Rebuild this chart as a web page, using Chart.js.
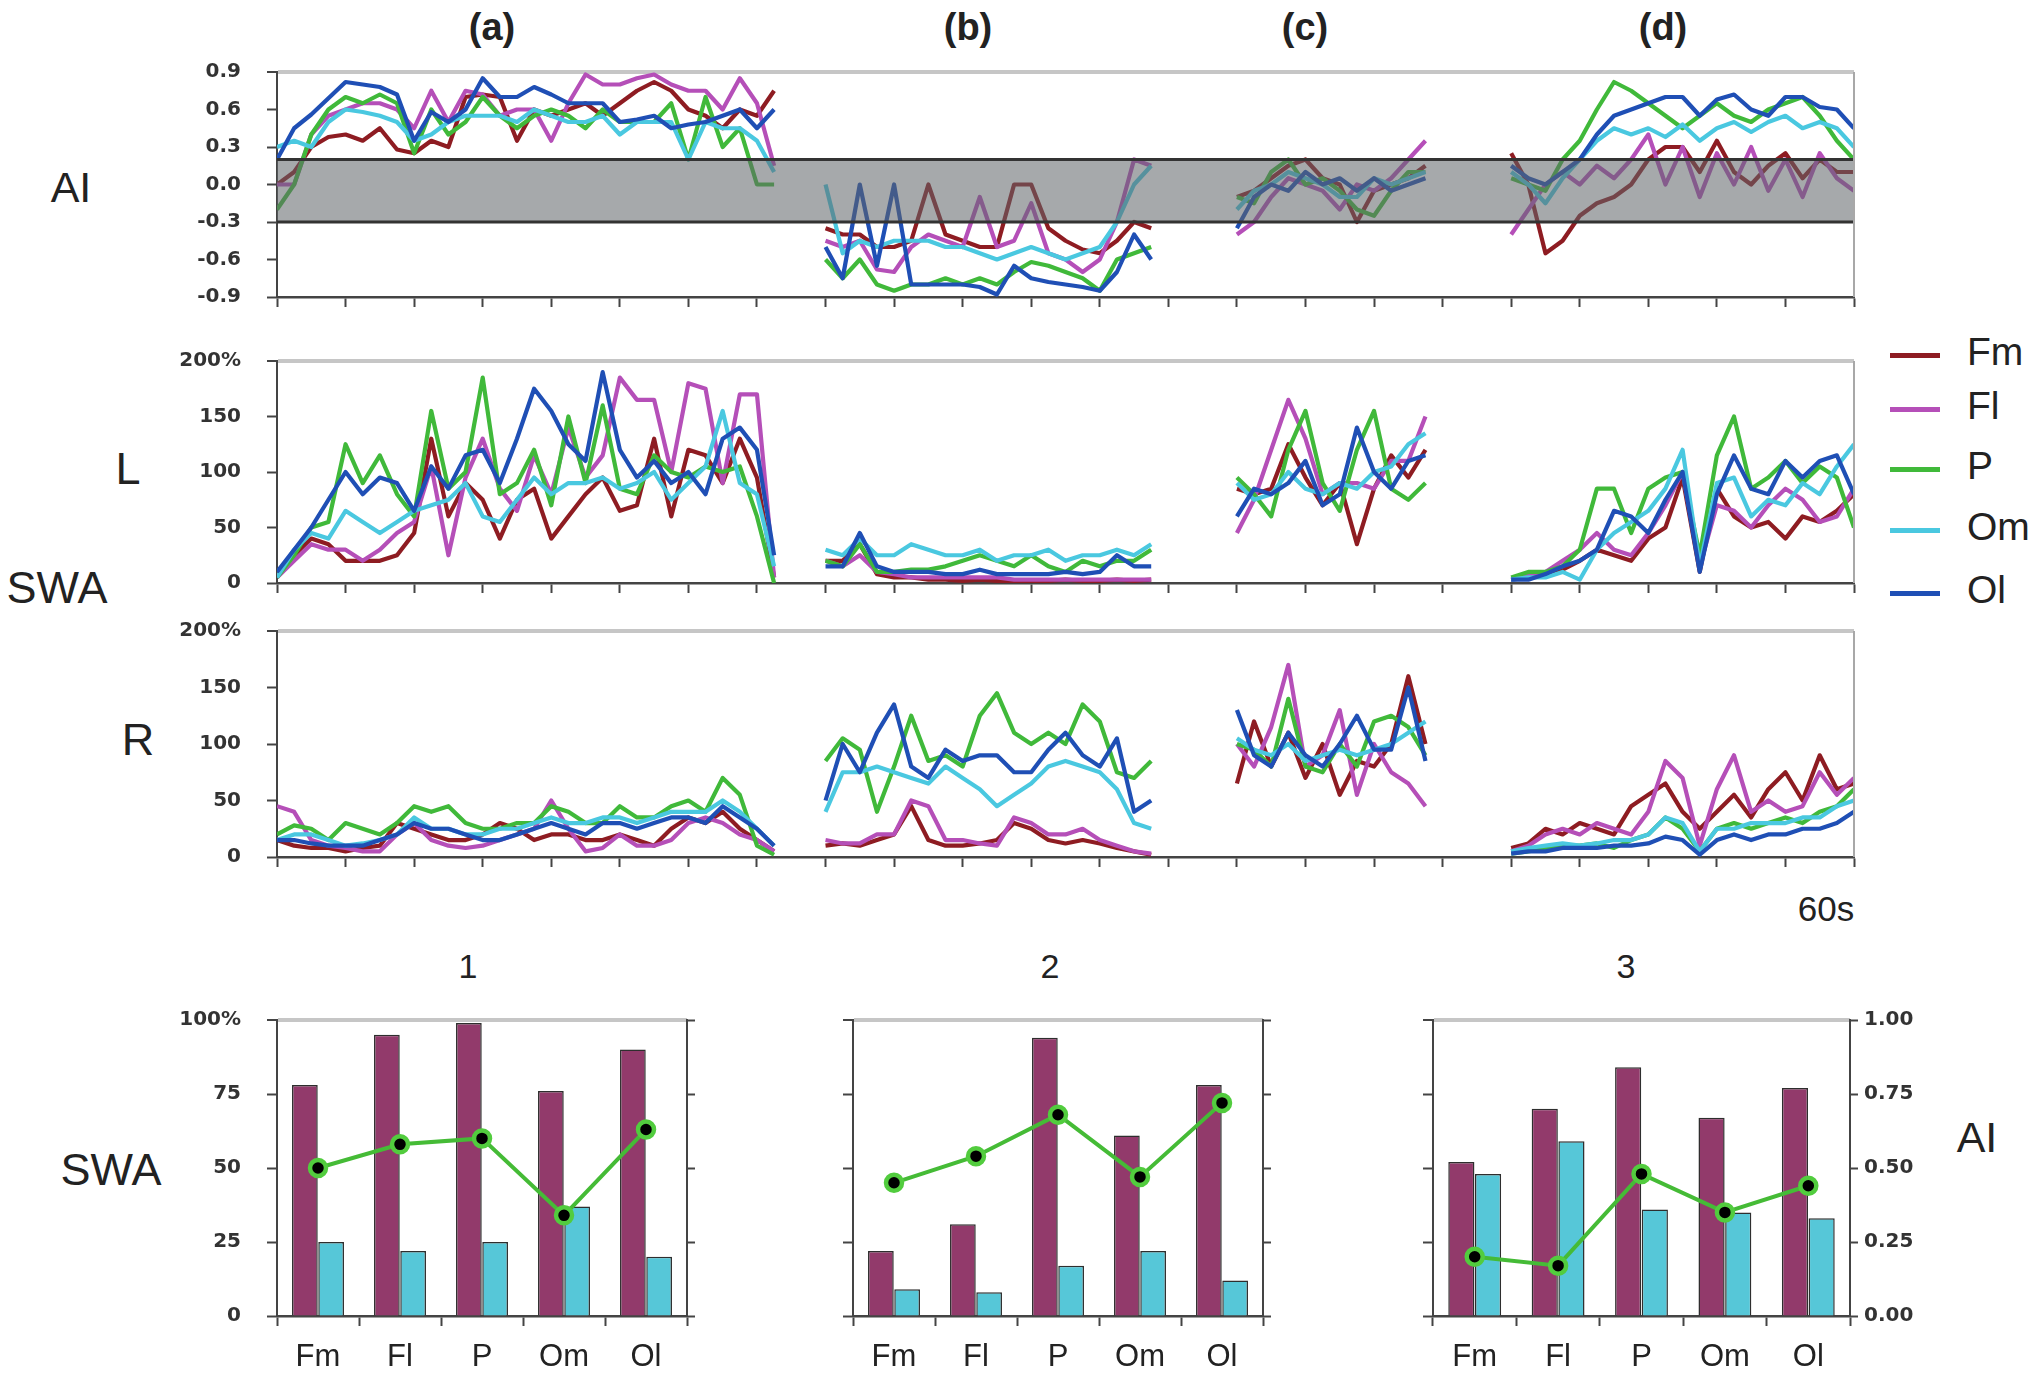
<!DOCTYPE html>
<html>
<head>
<meta charset="utf-8">
<script src="https://cdn.jsdelivr.net/npm/chart.js@4.4.1/dist/chart.umd.min.js"></script>
<style>
  body { margin: 0; background: #fff; width: 2040px; height: 1376px; position: relative; overflow: hidden;
         font-family: 'Liberation Sans', Arial, sans-serif; color: #222; }
  canvas { position: absolute; }
  .lbl { position: absolute; transform: translate(-50%, -50%); white-space: nowrap; line-height: 1; }
  .leg { position: absolute; transform: translateY(-50%); white-space: nowrap; line-height: 1; font-size: 39px; }
  .legline { position: absolute; width: 50px; height: 5px; }
</style>
</head>
<body>

<div class="lbl" style="left:492px;top:27px;font-size:38px;font-weight:bold;">(a)</div>
<div class="lbl" style="left:968px;top:27px;font-size:38px;font-weight:bold;">(b)</div>
<div class="lbl" style="left:1305px;top:27px;font-size:38px;font-weight:bold;">(c)</div>
<div class="lbl" style="left:1663px;top:27px;font-size:38px;font-weight:bold;">(d)</div>

<div class="lbl" style="left:71px;top:187px;font-size:43px;">AI</div>
<div class="lbl" style="left:128px;top:468px;font-size:45px;">L</div>
<div class="lbl" style="left:57px;top:587px;font-size:45px;">SWA</div>
<div class="lbl" style="left:138px;top:739px;font-size:45px;">R</div>
<div class="lbl" style="left:1826px;top:908px;font-size:35px;">60s</div>

<div class="lbl" style="left:468px;top:966px;font-size:34px;">1</div>
<div class="lbl" style="left:1050px;top:966px;font-size:34px;">2</div>
<div class="lbl" style="left:1626px;top:966px;font-size:34px;">3</div>
<div class="lbl" style="left:111px;top:1169px;font-size:45px;">SWA</div>
<div class="lbl" style="left:1977px;top:1137px;font-size:43px;">AI</div>

<div id="legend"></div>

<canvas id="aiChart" width="1740" height="300" style="left:160px;top:40px;"></canvas>
<canvas id="lChart" width="1740" height="300" style="left:160px;top:330px;"></canvas>
<canvas id="rChart" width="1740" height="300" style="left:160px;top:600px;"></canvas>

<canvas id="bar1" width="560" height="400" style="left:160px;top:990px;"></canvas>
<canvas id="bar2" width="560" height="400" style="left:736px;top:990px;"></canvas>
<canvas id="bar3" width="640" height="400" style="left:1316px;top:990px;"></canvas>

<script>
// time axis: each segment starts at a tick, samples every quarter tick
var STEP = 0.25;
var segStart = [0, 8, 14, 18];
var names = ['Fm', 'Fl', 'P', 'Om', 'Ol'];
var colors = ['#8e1c22', '#b54fb8', '#40b93a', '#4ac8e0', '#1f4fb5'];

// grey band in the AI panel
var bandLow = -0.3;
var bandHigh = 0.2;

// AI values, one inner array per segment (a), (b), (c), (d)
var aiFm = [
  [0.0, 0.1, 0.3, 0.38, 0.4, 0.35, 0.45, 0.28, 0.25, 0.35, 0.3, 0.7, 0.72, 0.7, 0.35, 0.6, 0.55, 0.6, 0.65, 0.55, 0.65, 0.75, 0.82, 0.75, 0.6, 0.55, 0.45, 0.6, 0.55, 0.75],
  [-0.35, -0.4, -0.4, -0.5, -0.5, -0.45, 0.0, -0.4, -0.45, -0.5, -0.5, 0.0, 0.0, -0.35, -0.45, -0.52, -0.55, -0.45, -0.3, -0.35],
  [-0.1, -0.05, 0.05, 0.15, 0.2, 0.05, 0.0, -0.3, -0.05, 0.0, 0.05, 0.15],
  [0.25, 0.0, -0.55, -0.45, -0.25, -0.15, -0.1, 0.0, 0.2, 0.3, 0.3, 0.1, 0.35, 0.1, 0.0, 0.15, 0.25, 0.05, 0.2, 0.1, 0.1]
];
var aiFl = [
  [0.0, 0.0, 0.4, 0.55, 0.6, 0.65, 0.65, 0.6, 0.45, 0.75, 0.5, 0.75, 0.72, 0.55, 0.6, 0.6, 0.35, 0.65, 0.88, 0.8, 0.8, 0.85, 0.88, 0.8, 0.75, 0.75, 0.6, 0.85, 0.65, 0.15],
  [-0.45, -0.5, -0.45, -0.68, -0.7, -0.5, -0.4, -0.45, -0.5, -0.1, -0.5, -0.45, -0.15, -0.55, -0.6, -0.7, -0.6, -0.3, 0.2, 0.15],
  [-0.4, -0.3, -0.1, 0.05, 0.0, -0.05, -0.2, 0.0, -0.05, 0.05, 0.2, 0.35],
  [-0.4, -0.2, 0.0, 0.1, 0.0, 0.15, 0.05, 0.2, 0.4, 0.0, 0.3, -0.1, 0.25, 0.0, 0.3, -0.05, 0.2, -0.1, 0.25, 0.05, -0.05]
];
var aiP = [
  [-0.2, 0.0, 0.4, 0.6, 0.7, 0.65, 0.72, 0.65, 0.25, 0.6, 0.4, 0.5, 0.7, 0.55, 0.45, 0.55, 0.6, 0.55, 0.45, 0.6, 0.5, 0.5, 0.5, 0.65, 0.2, 0.7, 0.3, 0.45, 0.0, 0.0],
  [-0.6, -0.75, -0.6, -0.8, -0.85, -0.8, -0.8, -0.75, -0.8, -0.75, -0.8, -0.7, -0.62, -0.65, -0.7, -0.75, -0.85, -0.6, -0.55, -0.5],
  [-0.1, -0.15, 0.1, 0.2, 0.0, 0.05, -0.05, -0.2, -0.25, -0.05, 0.1, 0.1],
  [0.05, 0.0, -0.05, 0.2, 0.35, 0.6, 0.82, 0.75, 0.65, 0.55, 0.45, 0.55, 0.65, 0.55, 0.5, 0.6, 0.65, 0.7, 0.55, 0.35, 0.2]
];
var aiOm = [
  [0.3, 0.35, 0.3, 0.5, 0.6, 0.58, 0.55, 0.5, 0.35, 0.4, 0.5, 0.55, 0.55, 0.55, 0.5, 0.6, 0.55, 0.5, 0.5, 0.55, 0.4, 0.5, 0.5, 0.5, 0.2, 0.5, 0.45, 0.45, 0.35, 0.1],
  [0.0, -0.55, -0.45, -0.5, -0.45, -0.45, -0.45, -0.5, -0.5, -0.55, -0.6, -0.55, -0.5, -0.55, -0.6, -0.55, -0.5, -0.3, 0.0, 0.15],
  [-0.2, -0.05, 0.0, 0.1, 0.05, 0.0, -0.1, -0.1, 0.05, 0.0, 0.05, 0.1],
  [0.1, 0.0, -0.15, 0.05, 0.2, 0.35, 0.45, 0.4, 0.45, 0.38, 0.48, 0.35, 0.45, 0.5, 0.42, 0.5, 0.55, 0.45, 0.5, 0.45, 0.3]
];
var aiOl = [
  [0.2, 0.45, 0.56, 0.69, 0.82, 0.8, 0.78, 0.72, 0.35, 0.58, 0.5, 0.6, 0.85, 0.7, 0.7, 0.78, 0.72, 0.65, 0.65, 0.65, 0.5, 0.52, 0.55, 0.45, 0.48, 0.5, 0.55, 0.6, 0.45, 0.6],
  [-0.5, -0.75, 0.0, -0.65, 0.0, -0.8, -0.8, -0.8, -0.8, -0.82, -0.88, -0.65, -0.75, -0.78, -0.8, -0.82, -0.85, -0.7, -0.4, -0.6],
  [-0.35, -0.1, 0.0, -0.05, 0.1, 0.0, 0.05, -0.05, 0.05, -0.05, 0.0, 0.05],
  [0.15, 0.05, 0.0, 0.1, 0.2, 0.4, 0.55, 0.6, 0.65, 0.7, 0.7, 0.55, 0.68, 0.72, 0.6, 0.55, 0.7, 0.7, 0.62, 0.6, 0.45]
];

// SWA of the left hemisphere (L), percent
var lFm = [
  [5, 25, 40, 35, 20, 20, 20, 25, 45, 130, 60, 90, 75, 40, 75, 85, 40, 60, 80, 95, 65, 70, 130, 60, 120, 115, 90, 130, 95, 5],
  [20, 20, 35, 8, 5, 5, 3, 3, 2, 3, 2, 2, 2, 2, 3, 2, 2, 3, 2, 3],
  [85, 80, 85, 125, 95, 70, 90, 35, 85, 115, 95, 120],
  [3, 5, 8, 12, 20, 30, 25, 20, 40, 50, 95, 10, 85, 60, 50, 55, 40, 60, 55, 65, 80]
];
var lFl = [
  [5, 20, 35, 30, 30, 20, 30, 45, 55, 105, 25, 95, 130, 85, 65, 115, 80, 140, 95, 115, 185, 165, 165, 100, 180, 175, 90, 170, 170, 5],
  [20, 15, 25, 10, 8, 5, 5, 5, 5, 5, 5, 3, 3, 3, 3, 3, 3, 3, 3, 3],
  [45, 75, 120, 165, 130, 80, 90, 90, 85, 110, 110, 150],
  [3, 8, 10, 20, 30, 45, 30, 25, 45, 70, 100, 15, 70, 65, 50, 70, 85, 75, 55, 60, 85]
];
var lP = [
  [5, 25, 50, 55, 125, 90, 115, 80, 60, 155, 85, 100, 185, 80, 90, 120, 70, 150, 90, 160, 85, 80, 115, 100, 95, 105, 100, 105, 60, 0],
  [20, 15, 35, 10, 10, 12, 12, 15, 20, 25, 20, 15, 25, 15, 10, 20, 15, 20, 20, 30],
  [95, 80, 60, 120, 155, 90, 65, 120, 155, 85, 75, 90],
  [5, 10, 10, 15, 30, 85, 85, 45, 85, 95, 100, 25, 115, 150, 85, 95, 110, 90, 105, 95, 50]
];
var lOm = [
  [5, 30, 45, 40, 65, 55, 45, 55, 65, 70, 75, 90, 60, 55, 75, 95, 80, 90, 90, 95, 85, 90, 100, 75, 90, 105, 155, 90, 80, 15],
  [30, 25, 40, 25, 25, 35, 30, 25, 25, 30, 20, 25, 25, 30, 20, 25, 25, 30, 25, 35],
  [90, 75, 80, 100, 85, 80, 90, 85, 100, 105, 125, 135],
  [3, 5, 5, 10, 3, 30, 45, 55, 65, 85, 120, 15, 90, 95, 60, 75, 70, 90, 80, 105, 125]
];
var lOl = [
  [10, 30, 50, 75, 100, 80, 95, 90, 65, 105, 85, 115, 120, 90, 130, 175, 155, 125, 110, 190, 120, 95, 110, 90, 100, 80, 130, 140, 120, 25],
  [15, 15, 45, 15, 10, 10, 10, 8, 8, 12, 8, 8, 8, 8, 10, 8, 10, 25, 15, 15],
  [60, 85, 80, 90, 110, 70, 80, 140, 100, 85, 110, 115],
  [3, 3, 8, 15, 20, 30, 65, 60, 45, 75, 100, 10, 80, 115, 85, 80, 110, 95, 110, 115, 80]
];

// SWA of the right hemisphere (R), percent
var rFm = [
  [15, 10, 8, 8, 5, 8, 10, 30, 25, 20, 15, 15, 20, 30, 25, 15, 20, 20, 15, 15, 20, 15, 10, 25, 35, 30, 40, 25, 15, 5],
  [10, 12, 10, 15, 20, 45, 15, 10, 10, 12, 15, 30, 25, 15, 12, 15, 12, 8, 5, 2],
  [65, 120, 80, 110, 70, 100, 55, 85, 80, 100, 160, 100],
  [8, 12, 25, 20, 30, 25, 20, 45, 55, 65, 40, 25, 40, 55, 35, 60, 75, 50, 90, 60, 65]
];
var rFl = [
  [45, 40, 15, 10, 8, 5, 5, 20, 30, 15, 10, 8, 10, 15, 20, 25, 50, 25, 5, 8, 20, 10, 10, 15, 30, 35, 30, 20, 15, 5],
  [15, 12, 12, 20, 20, 50, 45, 15, 15, 12, 10, 35, 30, 20, 20, 25, 15, 10, 5, 3],
  [100, 80, 115, 170, 80, 90, 130, 55, 100, 75, 65, 45],
  [5, 10, 20, 25, 20, 30, 25, 20, 40, 85, 70, 10, 60, 90, 40, 50, 40, 45, 75, 55, 70]
];
var rP = [
  [20, 28, 25, 15, 30, 25, 20, 30, 45, 40, 45, 30, 25, 25, 30, 30, 45, 40, 30, 30, 45, 35, 35, 45, 50, 40, 70, 55, 10, 2],
  [85, 105, 95, 40, 80, 125, 85, 90, 80, 125, 145, 110, 100, 110, 100, 135, 120, 75, 70, 85],
  [100, 95, 80, 140, 80, 75, 100, 80, 120, 125, 115, 90],
  [3, 5, 8, 10, 10, 12, 8, 15, 20, 35, 25, 5, 25, 30, 25, 30, 35, 30, 40, 45, 60]
];
var rOm = [
  [15, 20, 20, 15, 10, 12, 15, 20, 35, 25, 25, 20, 20, 25, 25, 30, 35, 30, 30, 35, 35, 30, 35, 40, 40, 40, 50, 40, 25, 10],
  [40, 75, 75, 80, 75, 70, 65, 80, 70, 60, 45, 55, 65, 80, 85, 80, 75, 60, 30, 25],
  [105, 95, 90, 100, 85, 90, 95, 90, 95, 100, 110, 120],
  [5, 8, 10, 12, 10, 12, 15, 15, 20, 35, 30, 5, 25, 25, 30, 30, 30, 35, 35, 45, 50]
];
var rOl = [
  [15, 15, 12, 10, 10, 10, 15, 20, 30, 25, 25, 20, 15, 15, 20, 25, 30, 25, 20, 30, 30, 25, 30, 35, 35, 30, 45, 35, 25, 10],
  [50, 100, 75, 110, 135, 80, 70, 95, 85, 90, 90, 75, 75, 95, 110, 90, 80, 105, 40, 50],
  [130, 90, 80, 110, 90, 80, 100, 125, 95, 95, 150, 85],
  [3, 5, 5, 8, 8, 8, 10, 10, 12, 18, 15, 2, 15, 20, 15, 20, 20, 25, 25, 30, 40]
];

// bottom bar charts
var cats = ['Fm', 'Fl', 'P', 'Om', 'Ol'];
var bar1Purple = [78, 95, 99, 76, 90];
var bar1Cyan = [25, 22, 25, 37, 20];
var bar1Ai = [0.50, 0.58, 0.60, 0.34, 0.63];
var bar2Purple = [22, 31, 94, 61, 78];
var bar2Cyan = [9, 8, 17, 22, 12];
var bar2Ai = [0.45, 0.54, 0.68, 0.47, 0.72];
var bar3Purple = [52, 70, 84, 67, 77];
var bar3Cyan = [48, 59, 36, 35, 33];
var bar3Ai = [0.20, 0.17, 0.48, 0.35, 0.44];

var tickFont = { family: "'DejaVu Sans', sans-serif", size: 20, weight: 'bold' };
var drawOrder = [4, 3, 2, 1, 0];

// legend on the right
var legend = document.getElementById('legend');
var legY = [355, 409, 469, 530, 593];
names.forEach(function (n, k) {
    var line = document.createElement('div');
    line.className = 'legline';
    line.style.left = '1890px';
    line.style.top = (legY[k] - 2) + 'px';
    line.style.background = colors[k];
    legend.appendChild(line);
    var txt = document.createElement('div');
    txt.className = 'leg';
    txt.style.left = '1967px';
    txt.style.top = (legY[k] - 4) + 'px';
    txt.textContent = n;
    legend.appendChild(txt);
});

function toPoints(segs) {
    var pts = [];
    segs.forEach(function (vals, s) {
        vals.forEach(function (v, i) {
            pts.push({ x: segStart[s] + i * STEP, y: v });
        });
        // break the line between segments
        pts.push({ x: segStart[s] + vals.length * STEP, y: null });
    });
    return pts;
}

function fixW(w) {
    return function (s) { s.width = w; s.paddingTop = 0; s.paddingBottom = 0; };
}
function fixH(h) {
    return function (s) { s.height = h; s.paddingLeft = 0; s.paddingRight = 0; };
}
function topLine(max, a, b) {
    return function (c) { return c.tick && Math.abs(c.tick.value - max) < 1e-6 ? a : b; };
}

var rightBorder = {
    id: 'rightBorder',
    afterDraw: function (chart) {
        var a = chart.chartArea, ctx = chart.ctx;
        ctx.save();
        ctx.strokeStyle = '#a8a8a8';
        ctx.lineWidth = 2;
        ctx.beginPath();
        ctx.moveTo(a.right, a.top);
        ctx.lineTo(a.right, a.bottom);
        ctx.stroke();
        ctx.restore();
    }
};

var bandPlugin = {
    id: 'band',
    afterDatasetsDraw: function (chart) {
        var a = chart.chartArea, ctx = chart.ctx, y = chart.scales.y;
        var top = y.getPixelForValue(bandHigh);
        var bot = y.getPixelForValue(bandLow);
        ctx.save();
        ctx.fillStyle = 'rgba(96,101,105,0.56)';
        ctx.fillRect(a.left, top, a.right - a.left, bot - top);
        ctx.strokeStyle = '#333';
        ctx.lineWidth = 3;
        ctx.beginPath();
        ctx.moveTo(a.left, top); ctx.lineTo(a.right, top);
        ctx.moveTo(a.left, bot); ctx.lineTo(a.right, bot);
        ctx.stroke();
        ctx.restore();
    }
};

function makeTopChart(id, series, min, max, step, fmt, padTop, xHeight, plugins) {
    var datasets = names.map(function (n, k) {
        return {
            label: n,
            data: toPoints(series[k]),
            borderColor: colors[k],
            borderWidth: 4.2,
            borderJoinStyle: 'round',
            pointRadius: 0,
            tension: 0,
            spanGaps: false,
            order: drawOrder[k]
        };
    });
    return new Chart(document.getElementById(id), {
        type: 'line',
        data: { datasets: datasets },
        options: {
            responsive: false,
            animation: false,
            layout: { padding: { top: padTop, right: 46, bottom: 0, left: 0 } },
            plugins: { legend: { display: false }, tooltip: { enabled: false } },
            scales: {
                x: {
                    type: 'linear', min: 0, max: 23,
                    ticks: { stepSize: 1, display: false },
                    grid: { color: 'rgba(0,0,0,0)', tickColor: '#444', tickLength: 10, tickWidth: 2 },
                    border: { color: '#444', width: 2.5 },
                    afterFit: fixH(xHeight)
                },
                y: {
                    min: min, max: max,
                    ticks: { stepSize: step, callback: fmt, color: '#333', padding: 26, font: tickFont },
                    grid: {
                        color: topLine(max, '#c6c6c6', 'rgba(0,0,0,0)'),
                        lineWidth: topLine(max, 4, 1),
                        tickColor: '#444', tickLength: 10, tickWidth: 2
                    },
                    border: { color: '#444', width: 2 },
                    afterFit: fixW(117)
                }
            }
        },
        plugins: plugins
    });
}

function aiFmt(v) {
    if (Math.abs(v) < 1e-9) return '0.0';
    return v.toFixed(1);
}
function pctFmt(v) {
    return v === 200 ? '200%' : String(v);
}

makeTopChart('aiChart', [aiFm, aiFl, aiP, aiOm, aiOl], -0.9, 0.9, 0.3, aiFmt, 32, 43, [bandPlugin, rightBorder]);
makeTopChart('lChart', [lFm, lFl, lP, lOm, lOl], 0, 200, 50, pctFmt, 31, 47, [rightBorder]);
makeTopChart('rChart', [rFm, rFl, rP, rOm, rOl], 0, 200, 50, pctFmt, 31, 43, [rightBorder]);

function makeBarChart(id, purple, cyan, ai, showLeft, showRight, rightW, padRight) {
    return new Chart(document.getElementById(id), {
        type: 'bar',
        data: {
            labels: cats,
            datasets: [
                {
                    type: 'line', data: ai, yAxisID: 'y1', order: 0,
                    borderColor: '#45bb36', borderWidth: 4, tension: 0,
                    pointRadius: 8, pointBackgroundColor: '#000',
                    pointBorderColor: '#52cc3e', pointBorderWidth: 4.5
                },
                {
                    data: purple, yAxisID: 'y', order: 1,
                    backgroundColor: '#923a6b', borderColor: '#2e2e2e', borderWidth: 1.5,
                    barPercentage: 0.98, categoryPercentage: 0.64
                },
                {
                    data: cyan, yAxisID: 'y', order: 2,
                    backgroundColor: '#56c7d8', borderColor: '#2e2e2e', borderWidth: 1.5,
                    barPercentage: 0.98, categoryPercentage: 0.64
                }
            ]
        },
        options: {
            responsive: false,
            animation: false,
            layout: { padding: { top: 30, right: padRight, bottom: 0, left: 0 } },
            plugins: { legend: { display: false }, tooltip: { enabled: false } },
            scales: {
                x: {
                    offset: true,
                    ticks: { color: '#222', font: { family: "'Liberation Sans', Arial, sans-serif", size: 31 }, padding: 13 },
                    grid: { offset: true, color: 'rgba(0,0,0,0)', tickColor: '#444', tickLength: 10, tickWidth: 2 },
                    border: { color: '#444', width: 2.5 },
                    afterFit: fixH(74)
                },
                y: {
                    position: 'left', min: 0, max: 100,
                    ticks: {
                        stepSize: 25, display: showLeft, color: '#333', font: tickFont, padding: 26,
                        callback: function (v) { return v === 100 ? '100%' : String(v); }
                    },
                    grid: {
                        color: topLine(100, '#c6c6c6', 'rgba(0,0,0,0)'),
                        lineWidth: topLine(100, 4, 1),
                        tickColor: '#444', tickLength: 10, tickWidth: 2
                    },
                    border: { color: '#444', width: 2 },
                    afterFit: fixW(117)
                },
                y1: {
                    position: 'right', min: 0, max: 1,
                    ticks: {
                        stepSize: 0.25, display: showRight, color: '#333', font: tickFont, padding: 6,
                        callback: function (v) { return v.toFixed(2); }
                    },
                    grid: { drawOnChartArea: false, tickColor: '#444', tickLength: 8, tickWidth: 2 },
                    border: { color: '#444', width: 2 },
                    afterFit: fixW(rightW)
                }
            }
        }
    });
}

makeBarChart('bar1', bar1Purple, bar1Cyan, bar1Ai, true, false, 12, 21);
makeBarChart('bar2', bar2Purple, bar2Cyan, bar2Ai, false, false, 12, 21);
makeBarChart('bar3', bar3Purple, bar3Cyan, bar3Ai, false, true, 70, 36);
</script>
</body>
</html>
